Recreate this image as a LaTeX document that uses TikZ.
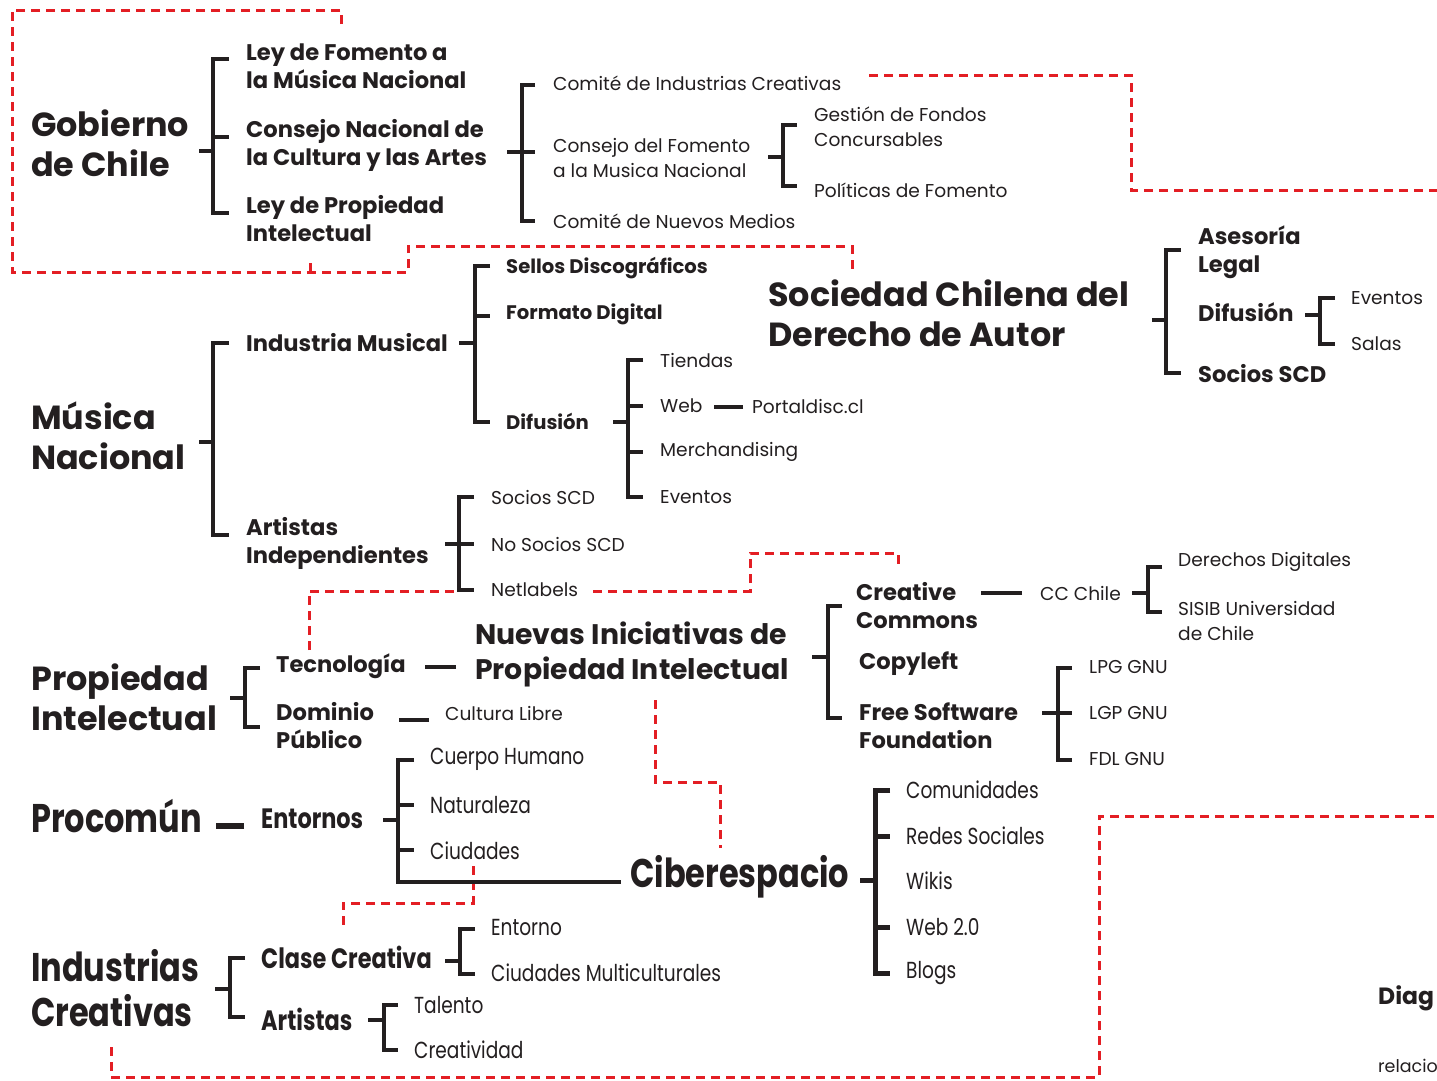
\documentclass[tikz,border=0pt]{standalone}
\usepackage{fontspec}
\setmainfont{Poppins}
\newfontfamily\condf[FakeStretch=0.8]{Poppins}
\usetikzlibrary{calc}
\definecolor{ink}{HTML}{231F20}
\definecolor{redc}{HTML}{E31E24}
\tikzset{
  tx/.style={anchor=west, inner sep=0pt, align=left, text=ink},
  ttl/.style={tx, font=\bfseries\fontsize{33.4}{40}\selectfont},
  ttlc/.style={tx, font=\condf\bfseries\fontsize{40}{41}\selectfont},
  bii/.style={tx, font=\bfseries\fontsize{22.6}{28.5}\selectfont},
  biic/.style={tx, font=\condf\bfseries\fontsize{28}{28}\selectfont},
  biii/.style={tx, font=\bfseries\fontsize{19.6}{24}\selectfont},
  reg/.style={tx, font=\fontsize{18.6}{25}\selectfont},
  regc/.style={tx, font=\condf\fontsize{23.2}{25}\selectfont},
  brk/.style={draw=ink, line width=4pt, line cap=butt, line join=miter},
  rdash/.style={draw=redc, line width=3pt, dash pattern=on 9pt off 6pt},
}
% bracket: stem from (#1,#2) to spine x=#3, spine from #4 to #5, ends to x=#6
\newcommand\brkt[6]{%
  \draw[brk] (#1,#2) -- (#3,#2);
  \draw[brk] (#6,#4) -- (#3,#4) -- (#3,#5) -- (#6,#5);}
\newcommand\tick[3]{\draw[brk] (#1,#3) -- (#2,#3);}
\begin{document}
\begin{tikzpicture}[x=1pt,y=-1pt]
\clip (0,0) rectangle (1437,1080);
\fill[white] (0,0) rectangle (1437,1080);

% ---------- red dashed outlines ----------
\draw[rdash] (341,24) -- (341,10) -- (12,10) -- (12,272) -- (408,272) -- (408,246) -- (852,246) -- (852,272);
\draw[rdash] (310,272) -- (310,263);
\draw[rdash] (869,75) -- (1131,75) -- (1131,190) -- (1437,190);
\draw[rdash] (309,650) -- (309,591) -- (455,591);
\draw[rdash] (593,591) -- (750,591) -- (750,553) -- (898,553) -- (898,568);
\draw[rdash] (655,700) -- (655,782) -- (720,782) -- (720,848);
\draw[rdash] (473,866) -- (473,903) -- (343,903) -- (343,930);
\draw[rdash] (111,1047) -- (111,1077) -- (1099,1077) -- (1099,816) -- (1437,816);

% ---------- Gobierno de Chile ----------
\node[ttl] (gob) at (31,148) {\strut Gobierno\\\strut de Chile};
\brkt{199}{151}{213}{59}{213}{229}
\tick{213}{229}{137}
\node[bii] (lfm) at (246,69) {\strut Ley de Fomento a\\\strut la Música Nacional};
\node[bii] (cnca) at (246,146) {\strut Consejo Nacional de\\\strut la Cultura y las Artes};
\node[bii] (lpi) at (246,222) {\strut Ley de Propiedad\\\strut Intelectual};
\brkt{507}{152}{522}{85}{221}{535}
\tick{522}{535}{152}
\node[reg] (cic) at (553,83) {Comité de Industrias Creativas};
\node[reg] (cfmn) at (553,160) {\strut Consejo del Fomento\\\strut a la Musica Nacional};
\node[reg] (cnm) at (553,221) {Comité de Nuevos Medios};
\brkt{768}{157}{783}{125}{186}{797}
\node[reg] (gfc) at (814,129) {\strut Gestión de Fondos\\\strut Concursables};
\node[reg] (pf) at (814,190) {Políticas de Fomento};

% ---------- Sociedad Chilena del Derecho de Autor ----------
\node[ttl] (scd) at (768,318) {\strut Sociedad Chilena del\\\strut Derecho de Autor};
\brkt{1152}{320}{1166}{250}{373}{1181}
\node[bii] (ases) at (1198,253) {\strut Asesoría\\\strut Legal};
\node[bii] (difscd) at (1198,312) {Difusión};
\node[bii] (socscd) at (1198,374) {Socios SCD};
\brkt{1305}{315}{1320}{298}{344}{1335}
\node[reg] (ev1) at (1351,298) {Eventos};
\node[reg] (salas) at (1351,344) {Salas};

% ---------- Musica Nacional ----------
\node[ttl] (mus) at (31,441) {\strut Música\\\strut Nacional};
\brkt{199}{442}{213}{343}{535}{229}
\node[bii] (indmus) at (246,343) {Industria Musical};
\node[bii] (artind) at (246,544) {\strut Artistas\\\strut Independientes};
\brkt{459}{343}{475}{266}{422}{490}
\tick{475}{490}{316}
\node[biii] (sellos) at (506,268) {Sellos Discográficos};
\node[biii] (formato) at (506,314) {Formato Digital};
\node[biii] (difmus) at (506,421) {Difusión};
\brkt{613}{422}{628}{360}{497}{643}
\tick{628}{643}{406}
\tick{628}{643}{452}
\node[reg] (tiendas) at (660,360) {Tiendas};
\node[reg] (web) at (660,406) {Web};
\node[reg] (portal) at (752,406) {Portaldisc.cl};
\draw[brk] ([xshift=-9pt,yshift=-1pt]portal.west) -- ++(-29pt,0);
\node[reg] (merch) at (660,452) {Merchandising};
\node[reg] (ev2) at (660,497) {Eventos};
\brkt{445}{544}{459}{497}{590}{474}
\tick{459}{474}{544}
\node[reg] (soc2) at (491,497) {Socios SCD};
\node[reg] (nosoc) at (491,544) {No Socios SCD};
\node[reg] (netl) at (491,590) {Netlabels};

% ---------- Propiedad Intelectual ----------
\node[ttl] (pi) at (31,702) {\strut Propiedad\\\strut Intelectual};
\brkt{230}{698}{245}{668}{727}{260}
\node[bii] (tec) at (276,666) {Tecnología};
\node[bii] (dom) at (276,729) {\strut Dominio\\\strut Público};
\node[tx, font=\bfseries\fontsize{28.3}{35}\selectfont] (nipi) at (475,655) {\strut Nuevas Iniciativas de\\\strut Propiedad Intelectual};
\coordinate (tl) at ([yshift=-1pt]tec.east);
\draw[brk] ([xshift=-19pt]tl -| nipi.west) -- ++(-31pt,0);
\node[reg] (cl) at (445,713) {Cultura Libre};
\draw[brk] ([xshift=-16pt,yshift=-7pt]cl.west) -- ++(-30pt,0);
\brkt{812}{657}{828}{606}{718}{842}
\node[bii] (cc) at (856,609) {\strut Creative\\\strut Commons};
\node[bii] (copy) at (859,664) {Copyleft};
\node[bii] (fsf) at (859,729) {\strut Free Software\\\strut Foundation};
\node[reg] (ccch) at (1040,593) {CC Chile};
\draw[brk] ([xshift=-18pt]ccch.west) -- ++(-41pt,0);
\brkt{1132}{593}{1148}{567}{612}{1162}
\node[reg] (dd) at (1178,562) {Derechos Digitales};
\node[reg] (sisib) at (1178,623) {\strut SISIB Universidad\\\strut de Chile};
\brkt{1042}{713}{1058}{668}{760}{1072}
\tick{1058}{1072}{713}
\node[reg] (lpg) at (1089,667) {LPG GNU};
\node[reg] (lgp) at (1089,713) {LGP GNU};
\node[reg] (fdl) at (1089,759) {FDL GNU};

% ---------- Procomun / Ciberespacio ----------
\node[ttlc] (proc) at (31,816) {Procomún};
\node[biic] (ent) at (261,819) {Entornos};
\draw[brk, line width=6pt] ([xshift=-17pt,yshift=-7pt]ent.west) -- ++(-28pt,0);
\brkt{383}{820}{398}{760}{882}{414}
\tick{398}{414}{805}
\tick{398}{414}{850}
\node[regc] (ch) at (430,759) {Cuerpo Humano};
\node[regc] (nat) at (430,805) {Naturaleza};
\node[regc] (ciu) at (430,851) {Ciudades};
\node[ttlc] (cib) at (630,877) {Ciberespacio};
\coordinate (cb) at (398,882);
\draw[brk, shorten >=9pt] (cb) -- (cb -| cib.west);
\begin{scope}[brk/.append style={line width=5pt}]
\brkt{860}{880}{875}{790}{973}{890}
\tick{875}{890}{836}
\tick{875}{890}{927}
\end{scope}
\node[regc] (com) at (906,790) {Comunidades};
\node[regc] (redes) at (906,836) {Redes Sociales};
\node[regc] (wikis) at (906,881) {Wikis};
\node[regc] (web20) at (906,927) {Web 2.0};
\node[regc] (blogs) at (906,973) {Blogs};

% ---------- Industrias Creativas ----------
\node[ttlc] (ic) at (31,994) {\strut Industrias\\\strut Creativas};
\brkt{215}{989}{230}{958}{1017}{245}
\node[biic] (clase) at (261,957) {Clase Creativa};
\node[biic] (artis) at (261,1019) {Artistas};
\brkt{445}{961}{460}{929}{974}{475}
\node[regc] (entorno) at (491,927) {Entorno};
\node[regc] (cmult) at (491,973) {Ciudades Multiculturales};
\brkt{368}{1020}{384}{1005}{1050}{398}
\node[regc] (talento) at (414,1005) {Talento};
\node[regc] (creat) at (414,1050) {Creatividad};

% ---------- caption, cut by the right edge as in the reference ----------
\node[tx, font=\bfseries\fontsize{23.5}{30}\selectfont] (diag) at (1378,998) {Diag};
\node[tx, font=\fontsize{17.5}{22}\selectfont] (rel) at (1378,1066) {relacio};
\end{tikzpicture}
\end{document}
